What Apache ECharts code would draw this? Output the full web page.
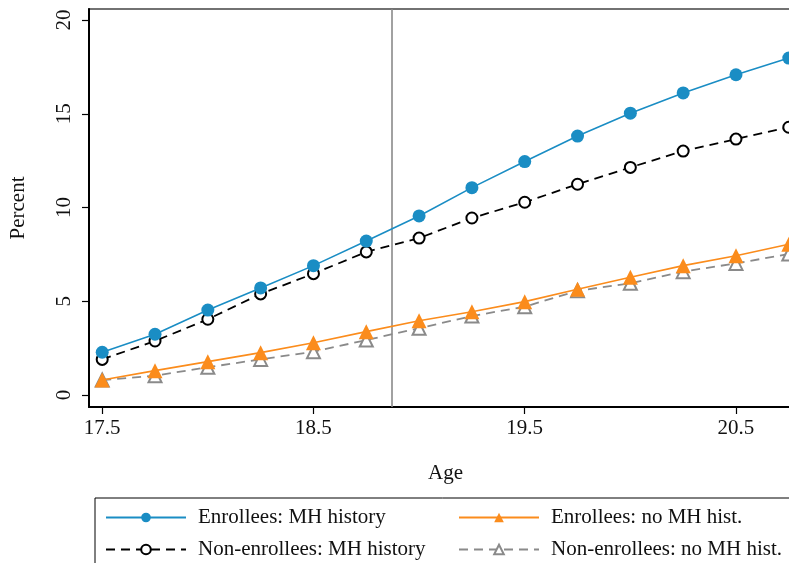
<!DOCTYPE html>
<html>
<head>
<meta charset="utf-8">
<script src="https://cdn.jsdelivr.net/npm/echarts@6/dist/echarts.min.js"></script>
<style>
  html, body { margin: 0; padding: 0; background: #fff; }
  #chart { width: 789px; height: 563px; }
</style>
</head>
<body>
<div id="chart"></div>
<script>
// Age in years at each observation
const ages = [17.5, 17.75, 18.0, 18.25, 18.5, 18.75, 19.0, 19.25, 19.5, 19.75, 20.0, 20.25, 20.5, 20.75];

// Cumulative percent, by group
const enrolleesMH = [2.28, 3.24, 4.53, 5.71, 6.9, 8.21, 9.55, 11.06, 12.45, 13.81, 15.03, 16.11, 17.08, 17.97];
const nonEnrolleesMH = [1.9, 2.88, 4.04, 5.39, 6.47, 7.63, 8.37, 9.44, 10.28, 11.24, 12.14, 13.01, 13.65, 14.28];
const enrolleesNoMH = [0.8, 1.3, 1.78, 2.26, 2.79, 3.38, 3.96, 4.44, 4.98, 5.64, 6.28, 6.9, 7.43, 8.04];
const nonEnrolleesNoMH = [0.8, 1.03, 1.48, 1.9, 2.31, 2.93, 3.56, 4.21, 4.71, 5.56, 5.96, 6.58, 7.02, 7.52];

const seriesNames = [
  'Enrollees: MH history',
  'Enrollees: no MH hist.',
  'Non-enrollees: MH history',
  'Non-enrollees: no MH hist.'
];

const xTicks = [17.5, 18.5, 19.5, 20.5];
const yTicks = [0, 5, 10, 15, 20];
const cutoffAge = 18.87;

const pairs = vals => ages.map((a, i) => [a, vals[i]]);

const FONT = 'Liberation Serif';
const FS = 21;
const BLUE = '#1a8dc4';
const ORANGE = '#fb8c1c';
const GRAY = '#8a8a8a';

const chart = echarts.init(document.getElementById('chart'), null, { renderer: 'canvas' });

const legendBase = {
  itemWidth: 80,
  itemHeight: 12,
  padding: 0,
  textStyle: { fontFamily: FONT, fontSize: FS, color: '#111', padding: [0, 0, 0, 7] },
  selectedMode: false
};

chart.setOption({
  animation: false,
  backgroundColor: '#fff',
  grid: {
    left: 89, top: 9, right: -13, bottom: 156,
    outerBoundsMode: 'none',
    show: true, borderColor: '#444', borderWidth: 1.5, backgroundColor: 'transparent'
  },
  xAxis: {
    type: 'value',
    min: 17.4375,
    max: 20.8125,
    name: 'Age',
    nameLocation: 'middle',
    nameGap: 56,
    nameTextStyle: { fontFamily: FONT, fontSize: FS, color: '#111' },
    axisLine: { show: true, onZero: false, lineStyle: { color: '#000', width: 2 } },
    axisTick: { show: true, length: 7, lineStyle: { color: '#000', width: 1.2 }, customValues: xTicks },
    axisLabel: { fontFamily: FONT, fontSize: FS, color: '#111', margin: 11, customValues: xTicks },
    splitLine: { show: false }
  },
  yAxis: {
    type: 'value',
    min: -0.64,
    max: 20.587,
    name: 'Percent',
    nameLocation: 'middle',
    nameGap: 60,
    nameRotate: 90,
    nameTextStyle: { fontFamily: FONT, fontSize: FS, color: '#111' },
    axisLine: { show: true, onZero: false, lineStyle: { color: '#000', width: 2 } },
    axisTick: { show: true, length: 7, lineStyle: { color: '#000', width: 1.2 }, customValues: yTicks },
    axisLabel: { fontFamily: FONT, fontSize: FS, color: '#111', rotate: 90, margin: 14, customValues: yTicks },
    splitLine: { show: false }
  },
  legend: [
    Object.assign({}, legendBase, { data: [seriesNames[0]], left: 105, top: 507 }),
    Object.assign({}, legendBase, { data: [seriesNames[1]], left: 458, top: 507 }),
    Object.assign({}, legendBase, { data: [seriesNames[2]], left: 105, top: 539 }),
    Object.assign({}, legendBase, { data: [seriesNames[3]], left: 458, top: 539 })
  ],
  graphic: [{
    type: 'rect',
    shape: { x: 95, y: 498, width: 760, height: 120 },
    style: { fill: 'none', stroke: '#000', lineWidth: 1 },
    silent: true
  }],
  series: [
    {
      name: seriesNames[0],
      type: 'line',
      data: pairs(enrolleesMH),
      symbol: 'circle',
      symbolSize: 13,
      showAllSymbol: true,
      itemStyle: { color: BLUE },
      lineStyle: { color: BLUE, width: 1.6 },
      z: 5,
      markLine: {
        silent: true,
        symbol: 'none',
        label: { show: false },
        lineStyle: { color: GRAY, width: 1.6, type: 'solid' },
        data: [{ xAxis: cutoffAge }],
        z: 1
      }
    },
    {
      name: seriesNames[1],
      type: 'line',
      data: pairs(enrolleesNoMH),
      symbol: 'triangle',
      symbolSize: 15,
      showAllSymbol: true,
      itemStyle: { color: ORANGE },
      lineStyle: { color: ORANGE, width: 1.6 },
      z: 4
    },
    {
      name: seriesNames[2],
      type: 'line',
      data: pairs(nonEnrolleesMH),
      symbol: 'emptyCircle',
      symbolSize: 11,
      showAllSymbol: true,
      itemStyle: { color: '#000', borderWidth: 1.8 },
      lineStyle: { color: '#000', width: 1.8, type: [9, 6] },
      z: 3
    },
    {
      name: seriesNames[3],
      type: 'line',
      data: pairs(nonEnrolleesNoMH),
      symbol: 'emptyTriangle',
      symbolSize: 13,
      showAllSymbol: true,
      itemStyle: { color: GRAY, borderWidth: 2 },
      lineStyle: { color: GRAY, width: 1.8, type: [9, 6] },
      z: 2
    }
  ]
});
</script>
</body>
</html>
